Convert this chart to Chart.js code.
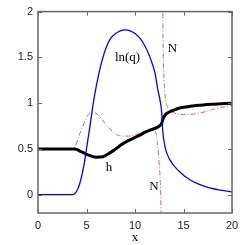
<!DOCTYPE html>
<html>
<head>
<meta charset="utf-8">
<script src="https://cdn.jsdelivr.net/npm/chart.js@4"></script>
<style>
body{margin:0;background:#fff}
canvas{display:block}
</style>
</head>
<body>
<canvas id="c" width="250" height="245"></canvas>
<script>
// tick labels
const xTicks=[0,5,10,15,20]
const yTicks=[0,0.5,1,1.5,2]

// ln(q) (blue)
const qX=[0,3.6,4.0,4.3,4.7,5.0,5.4,5.7,6.0,6.4,7.0,7.5,8.0,8.5,9.0,9.5,10,10.5,11,11.55,12.06,12.37,12.6,12.75,12.85,13.1,13.6,14.6,15.7,17.5,20]
const qY=[0,0,0.04,0.12,0.3,0.5,0.78,1.0,1.18,1.38,1.6,1.71,1.76,1.79,1.8,1.79,1.76,1.71,1.63,1.5,1.33,1.14,1.02,0.9,0.71,0.52,0.38,0.25,0.16,0.08,0.03]

// h (black)
const hX=[0,3.8,4.45,5.15,6.0,6.7,7.3,7.9,8.5,9.3,10,10.5,11,11.55,12.2,12.5,12.75,12.9,13.1,13.3,13.9,14.5,15.7,17,18.5,20]
const hY=[0.5,0.5,0.47,0.435,0.41,0.415,0.45,0.49,0.54,0.59,0.625,0.65,0.68,0.705,0.73,0.75,0.78,0.83,0.87,0.89,0.92,0.945,0.965,0.98,0.99,1.0]

// N (red dash-dot), null = break at the pole
const nX=[0,3.6,4.4,5.15,5.5,5.85,6.3,6.9,7.4,7.9,8.4,8.8,9.3,10,11,11.6,12.0,12.2,12.3,12.4,12.5,12.58,12.65,12.7,12.75,12.85,12.9,13.0,13.1,13.3,13.6,14.1,15,16,17,18,19,20]
const nY=[0.5,0.5,0.69,0.87,0.89,0.895,0.86,0.78,0.72,0.67,0.645,0.64,0.64,0.655,0.68,0.695,0.7,0.66,0.57,0.46,0.32,0.2,0,-0.25,null,2.2,1.6,1.25,1.08,0.97,0.93,0.89,0.875,0.88,0.9,0.93,0.955,0.975]

// curve labels
const labels=[
{text:"ln(q)",x:9.23,y:1.5},
{text:"N",x:13.87,y:1.6},
{text:"h",x:7.32,y:0.3},
{text:"N",x:11.96,y:0.09}
]

function pts(xs,ys){
return xs.map((x,i)=>({x:x,y:ys[i]}))
}

const frame={
id:"frame",
afterDraw(chart){
const c=chart.ctx
const a=chart.chartArea
const sx=chart.scales.x
const sy=chart.scales.y
c.save()
c.strokeStyle="#666"
c.lineWidth=1.5
c.strokeRect(a.left,a.top,a.right-a.left,a.bottom-a.top)
c.lineWidth=1
c.beginPath()
xTicks.forEach(v=>{
const p=Math.round(sx.getPixelForValue(v))+0.5
c.moveTo(p,a.bottom);c.lineTo(p,a.bottom-4)
c.moveTo(p,a.top);c.lineTo(p,a.top+4)
})
yTicks.forEach(v=>{
const p=Math.round(sy.getPixelForValue(v))+0.5
c.moveTo(a.left,p);c.lineTo(a.left+4,p)
c.moveTo(a.right,p);c.lineTo(a.right-4,p)
})
c.stroke()
c.fillStyle="#000"
c.font="13px 'Liberation Serif', serif"
c.textAlign="center"
c.textBaseline="middle"
labels.forEach(l=>{
c.fillText(l.text,sx.getPixelForValue(l.x),sy.getPixelForValue(l.y))
})
c.restore()
}
}

new Chart(document.getElementById("c"),{
type:"scatter",
data:{
datasets:[
{data:pts(qX,qY),showLine:true,borderColor:"#0000ff",borderWidth:1.3,pointRadius:0,cubicInterpolationMode:"monotone",order:1},
{data:pts(hX,hY),showLine:true,borderColor:"#000",borderWidth:3,pointRadius:0,cubicInterpolationMode:"monotone",order:2},
{data:pts(nX,nY),showLine:true,borderColor:"#c86e6e",borderWidth:1,borderDash:[5,2,1,2],pointRadius:0,cubicInterpolationMode:"monotone",spanGaps:false,order:3}
]
},
options:{
responsive:false,
animation:false,
events:[],
layout:{padding:{top:11,right:18,left:0,bottom:0}},
plugins:{legend:{display:false},tooltip:{enabled:false}},
scales:{
x:{
type:"linear",min:0,max:20,
afterBuildTicks(s){s.ticks=xTicks.map(v=>({value:v}))},
afterFit(s){s.height=32},
grid:{display:false,drawTicks:false},
border:{display:false},
ticks:{padding:6,color:"#222",font:{family:"'Liberation Sans', Arial, sans-serif",size:11},maxRotation:0,callback:v=>String(v)},
title:{display:true,text:"x",color:"#000",padding:{top:0,bottom:0},font:{family:"'Liberation Serif', serif",size:13}}
},
y:{
type:"linear",min:-0.2,max:2,
afterBuildTicks(s){s.ticks=yTicks.map(v=>({value:v}))},
afterFit(s){s.width=38},
grid:{display:false,drawTicks:false},
border:{display:false},
ticks:{padding:5,color:"#222",font:{family:"'Liberation Sans', Arial, sans-serif",size:11},callback:v=>String(v)}
}
}
},
plugins:[frame]
})
</script>
</body>
</html>
